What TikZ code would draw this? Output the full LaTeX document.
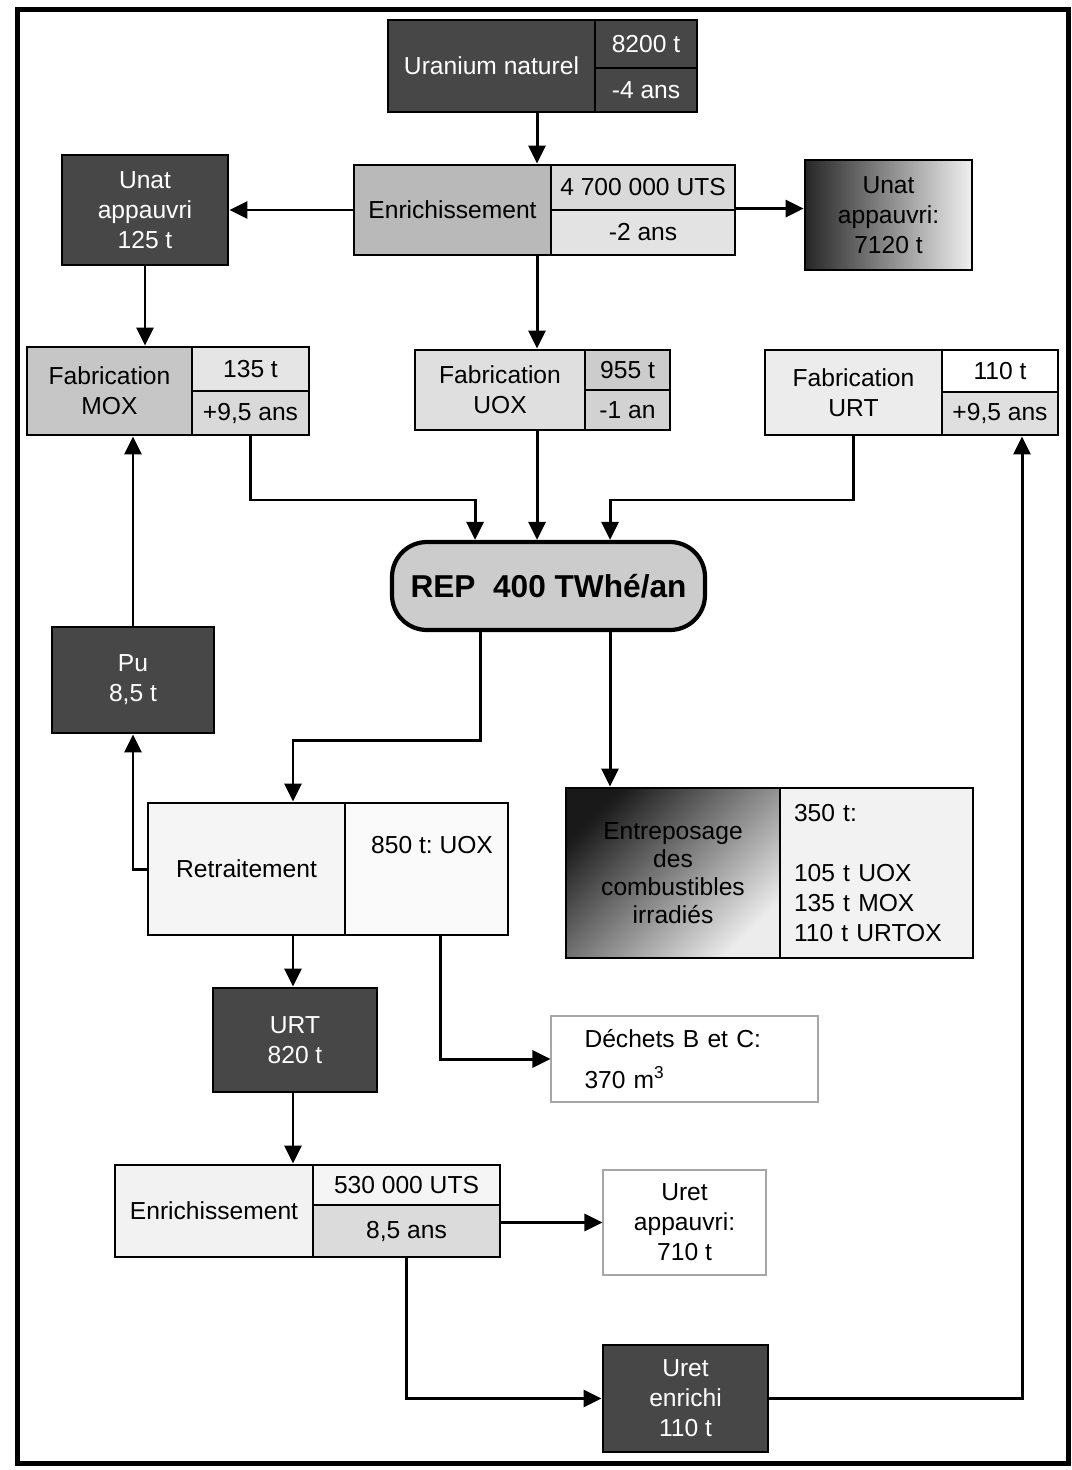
\documentclass[tikz,border=0pt]{standalone}
\usepackage{fontspec}
\setmainfont{Liberation Sans}
\usetikzlibrary{arrows.meta}
\frenchspacing

\begin{document}
\begin{tikzpicture}[x=0.2mm, y=-0.2mm,
  box/.style={draw, line width=1.6pt, inner sep=0pt, align=center, font=\fontsize{14}{17}\selectfont},
  dark/.style={box, fill=black!72, text=white},
  thinbox/.style={box, line width=0.6pt, draw=gray!70, fill=white},
  txt/.style={inner sep=0pt, font=\fontsize{14}{17}\selectfont},
  cellsz/.style 2 args={minimum width=#1*0.2mm, minimum height=#2*0.2mm},
  arr/.style={line width=1.7pt, -{Triangle[length=3.6mm, width=3.4mm]}}]
  \useasboundingbox (0,0) rectangle (1071,1470);
  \draw[line width=1mm] (17,10) rectangle (1068,1463);

  % columns for the connectors
  \coordinate (cMid) at (537,0);
  \coordinate (cA) at (475,0);
  \coordinate (cB) at (610,0);
  \coordinate (cC) at (293,0);
  \coordinate (cD) at (480,0);
  \coordinate (cE) at (440,0);
  \coordinate (cG) at (1022,0);
  \coordinate (jn) at (0,500);
  \coordinate (jn2) at (0,740);

  % uranium naturel
  \node[dark, cellsz={207}{92}] (natL) at (491.5,66) {Uranium naturel};
  \node[dark, cellsz={102}{48}] (natT) at (646,44) {8200 t};
  \node[dark, cellsz={102}{44}] (natB) at (646,90) {-4 ans};

  % enrichissement
  \node[box, fill=gray!55, cellsz={197}{90}] (enrL) at (452.5,210) {Enrichissement};
  \node[box, fill=gray!30, cellsz={184}{45}] (enrT) at (643,187.5) {4 700 000 UTS};
  \node[box, fill=gray!22, cellsz={184}{45}] (enrB) at (643,232.5) {-2 ans};
  \node[dark, cellsz={166}{110}] (lapp) at (145,210) {Unat\\appauvri\\125 t};
  \node[box, left color=black!85, right color=gray!12, cellsz={167}{110}] (rapp) at (888.5,215) {Unat\\appauvri:\\7120 t};

  % fabrications
  \node[box, fill=gray!45, cellsz={165}{88}] (moxL) at (109.5,391) {Fabrication\\MOX};
  \node[box, fill=gray!20, cellsz={117}{44}] (moxT) at (250.5,369) {135 t};
  \node[box, fill=gray!30, cellsz={117}{44}] (moxB) at (250.5,413) {+9,5 ans};
  \node[box, fill=gray!25, cellsz={170}{80}] (uoxL) at (500,390) {Fabrication\\UOX};
  \node[box, fill=gray!40, cellsz={85}{40}] (uoxT) at (627.5,370) {955 t};
  \node[box, fill=gray!35, cellsz={85}{40}] (uoxB) at (627.5,410) {-1 an};
  \node[box, fill=gray!15, cellsz={177}{85}] (urtL) at (853.5,392.5) {Fabrication\\URT};
  \node[box, fill=white, cellsz={116}{42}] (urtT) at (1000,371) {110 t};
  \node[box, fill=gray!25, cellsz={116}{43}] (urtB) at (1000,413.5) {+9,5 ans};

  % reacteurs
  \node[box, line width=2.4pt, rounded corners=7mm, fill=gray!40, cellsz={313}{88},
    font=\bfseries\fontsize{18}{21}\selectfont] (rep) at (548.5,586) {REP~~400 TWhé/an};

  \node[dark, cellsz={162}{106}] (pu) at (133,680) {Pu\\8,5 t};

  % retraitement, entreposage
  \node[box, fill=gray!8, cellsz={197}{132}] (retL) at (246.5,869) {Retraitement};
  \node[box, fill=gray!4, cellsz={163}{132}] (retR) at (426.5,869) {};
  \node[txt] (retT) at (432,845) {850 t: UOX};
  \node[box, left color=black!90, right color=gray!15, shading angle=45, cellsz={214}{170},
    font=\fontsize{14}{16}\selectfont] (stoL) at (673,873) {Entreposage\\des\\combustibles\\irradiés};
  \node[box, fill=gray!10, cellsz={193}{170}, align=left, text width=33mm] (stoR) at (876.5,873)
    {350 t:\\[17pt]105 t UOX\\135 t MOX\\110 t URTOX};

  \node[dark, cellsz={164}{104}] (urtb) at (295,1040) {URT\\820 t};
  \node[thinbox, cellsz={267}{86}, align=left, text width=40mm] (dech) at (684.5,1059)
    {Déchets B et C:\\[6pt]370 m\textsuperscript{3}};

  % re-enrichissement
  \node[box, fill=gray!10, cellsz={198}{92}] (enr2L) at (214,1211) {Enrichissement};
  \node[box, fill=gray!8, cellsz={187}{40}] (enr2T) at (406.5,1185) {530 000 UTS};
  \node[box, fill=gray!28, cellsz={187}{52}] (enr2B) at (406.5,1231) {8,5 ans};
  \node[thinbox, cellsz={163}{105}] (uapp) at (684.5,1222.5) {Uret\\appauvri:\\710 t};
  \node[dark, cellsz={165}{107}] (uren) at (685.5,1398.5) {Uret\\enrichi\\110 t};

  % connectors
  \draw[arr] (natL.south -| cMid) -- (enrL.north -| cMid);
  \draw[arr] (enrL.west) -- (lapp.east);
  \draw[arr] (enrB.north east) -- (rapp.west |- enrB.north east);
  \draw[arr] (lapp.south) -- (lapp.south |- moxL.north);
  \draw[arr] (enrB.south -| cMid) -- (uoxL.north -| cMid);
  \draw[arr] (moxB.south) |- (jn -| cA) -- (rep.north -| cA);
  \draw[arr] (uoxL.south -| cMid) -- (rep.north -| cMid);
  \draw[arr] (urtL.south) |- (jn -| cB) -- (rep.north -| cB);
  \draw[arr] (rep.south -| cD) |- (jn2 -| cC) -- (retL.north -| cC);
  \draw[arr] (rep.south -| cB) -- (stoL.north -| cB);
  \draw[arr] (retL.west) -| (pu.south);
  \draw[arr] (pu.north) -- (pu.north |- moxL.south);
  \draw[arr] (retL.south -| cC) -- (urtb.north -| cC);
  \draw[arr] (retR.south -| cE) |- (dech.west);
  \draw[arr] (urtb.south -| cC) -- (enr2L.north -| cC);
  \draw[arr] (enr2B.east |- uapp.west) -- (uapp.west);
  \draw[arr] (enr2B.south) |- (uren.west);
  \draw[arr] (uren.east) -| (cG |- urtB.south);
\end{tikzpicture}
\end{document}
